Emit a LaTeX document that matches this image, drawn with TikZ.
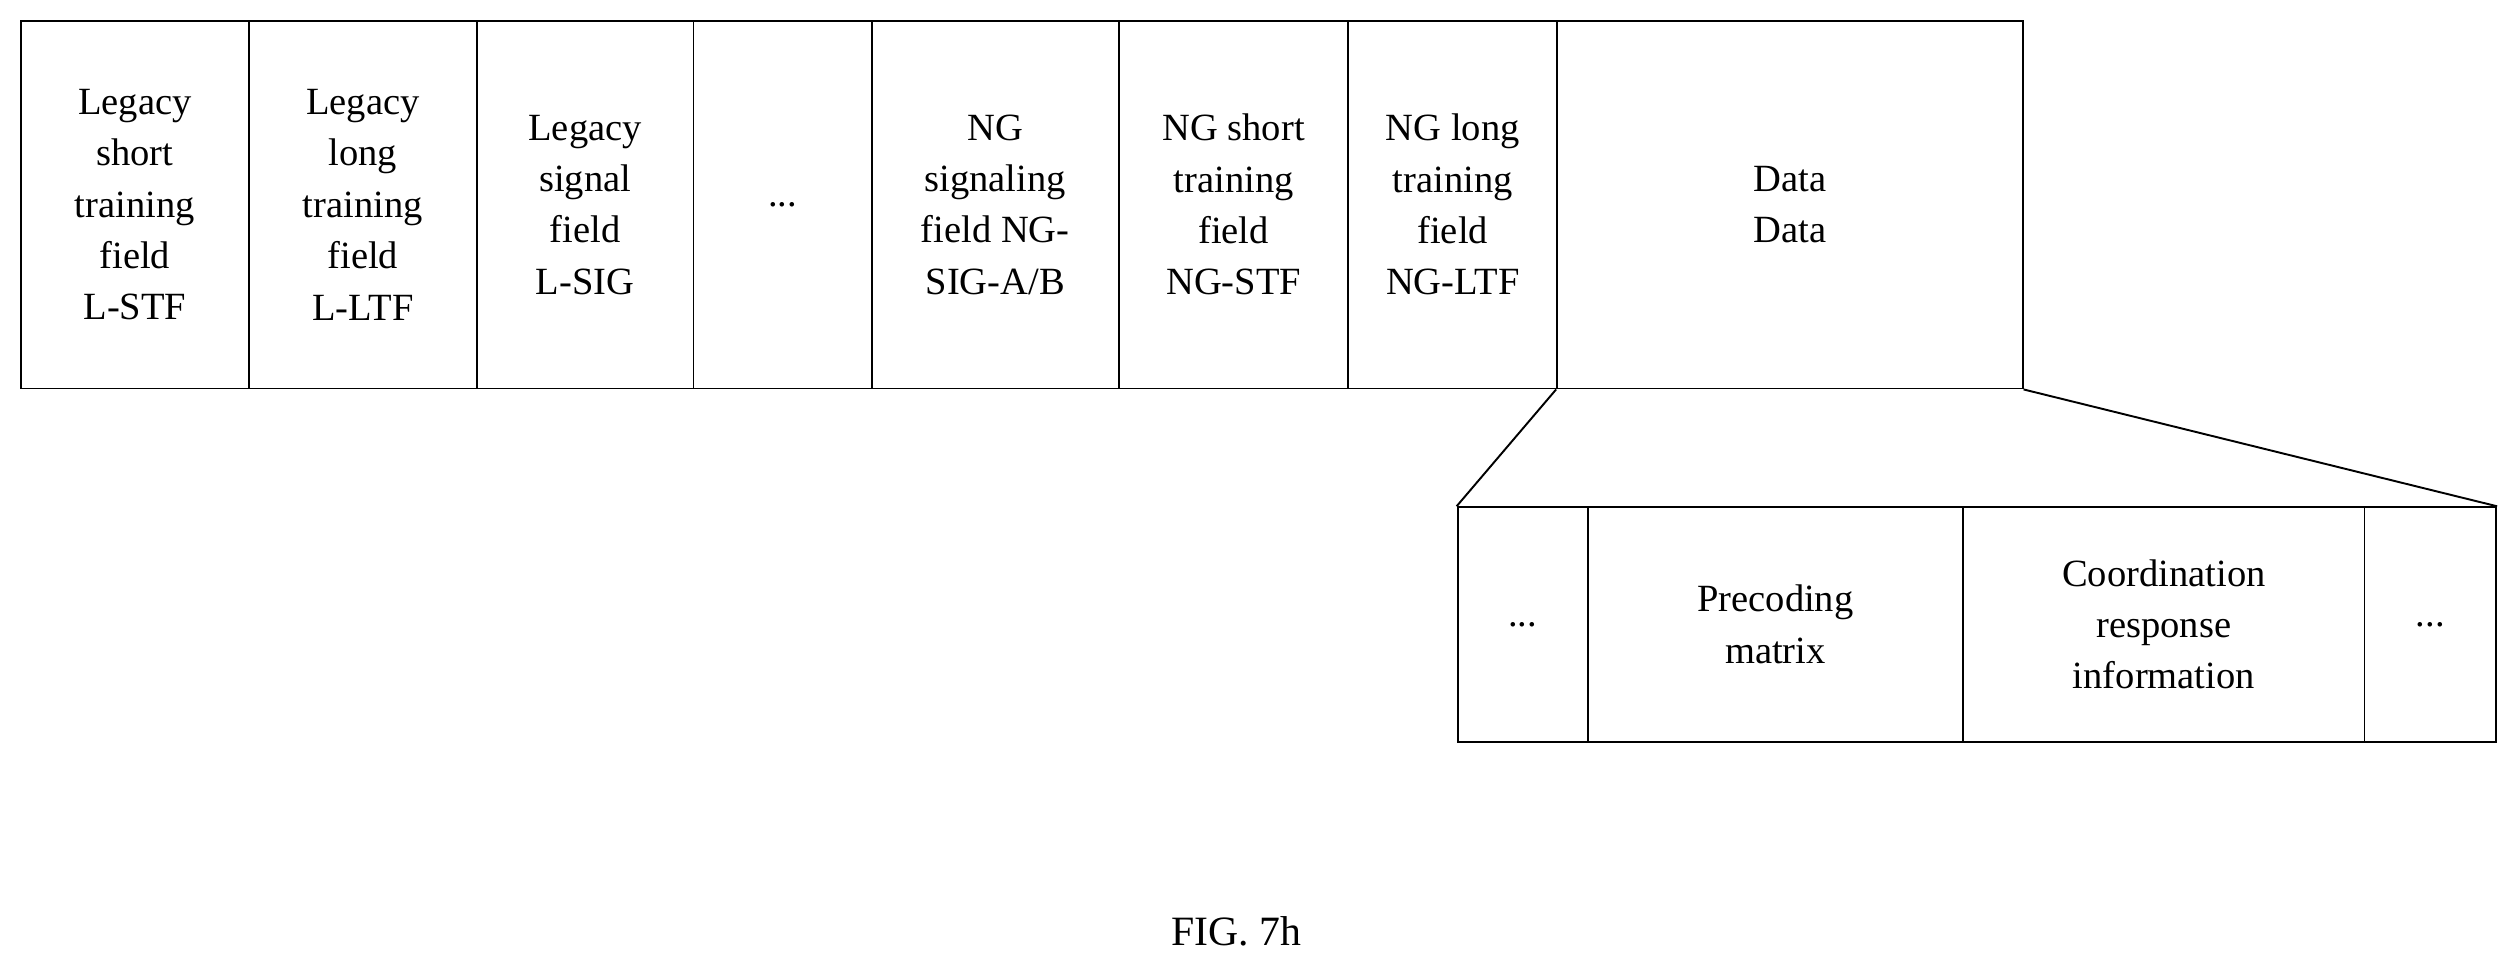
\documentclass[tikz,border=0pt]{standalone}
\usepackage{fontspec}
\setmainfont{Liberation Serif}
\begin{document}
\begin{tikzpicture}[x=1pt,y=-1pt,
  box/.style={draw,line width=1.2pt,rectangle,inner sep=0pt,align=center,font=\fontsize{24}{32}\selectfont},
  top/.style={box,minimum height=229pt},
  bot/.style={box,minimum height=146pt}]
\useasboundingbox (0,0) rectangle (1568,607.5);
\def\tb#1#2#3#4{\node[top,minimum width=#3-#2] (#1) at ({(#2+#3)/2},127.5) {#4};}
\tb{a}{13}{155}{Legacy\\short\\training\\field\\L-STF}
\tb{b}{155}{297}{Legacy\\long\\training\\field\\L-LTF}
\tb{c}{297}{432}{Legacy\\signal\\field\\L-SIG}
\tb{d}{432}{543}{...}
\tb{e}{543}{697}{NG\\signaling\\field NG-\\SIG-A/B}
\tb{f}{697}{840}{NG short\\training\\field\\NG-STF}
\tb{g}{840}{970}{NG long\\training\\field\\NG-LTF}
\tb{h}{970}{1260}{Data\\Data}
\def\bb#1#2#3#4{\node[bot,minimum width=#3-#2] (#1) at ({(#2+#3)/2},389) {#4};}
\bb{p}{908}{989}{...}
\bb{q}{989}{1223}{Precoding\\matrix}
\bb{r}{1223}{1473}{Coordination\\response\\information}
\bb{s}{1473}{1555}{...}
\draw[line width=1.2pt] (h.south west) -- (p.north west);
\draw[line width=1.2pt] (h.south east) -- (s.north east);
\node[font=\fontsize{26}{30}\selectfont] (cap) at (770,580) {FIG. 7h};
\end{tikzpicture}
\end{document}
